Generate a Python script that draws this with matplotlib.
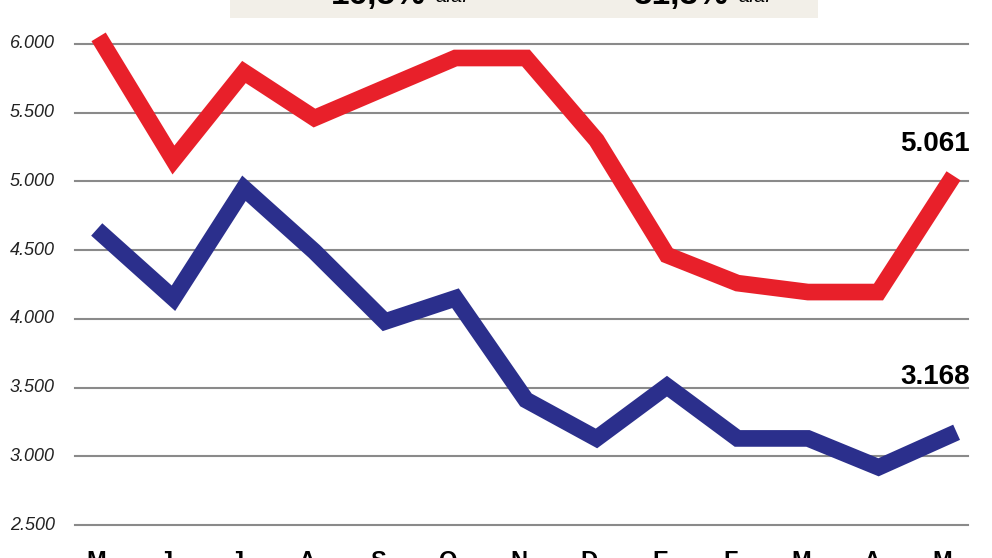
import numpy as np
import matplotlib.pyplot as plt
from matplotlib.patches import Rectangle

plt.rcParams['font.family'] = ['Liberation Sans', 'DejaVu Sans']

months = ['M', 'J', 'J', 'A', 'S', 'O', 'N', 'D', 'E', 'F', 'M', 'A', 'M']
red = [6000, 5156, 5796, 5461, 5680, 5898, 5898, 5300, 4464, 4260, 4195, 4195, 4990]
blue = [4610, 4150, 4950, 4490, 3980, 4150, 3410, 3130, 3510, 3130, 3130, 2920, 3150]
yticks = [2500, 3000, 3500, 4000, 4500, 5000, 5500, 6000]

fig = plt.figure(figsize=(9.92, 5.58), dpi=100)
ax = fig.add_axes([0, 0, 1, 1])
ax.set_xlim(-1.46, 12.61)
ax.set_ylim(2260, 6320)
ax.axis('off')

x = np.arange(len(months))
for v in yticks:
    ax.plot([-0.4, 12.27], [v, v], color='#8a8a8a', lw=1.5, zorder=1)
    ax.text(-1.32, v, f'{v:,}'.replace(',', '.'), fontsize=13, style='italic',
            ha='left', va='center', color='#222222')

ax.plot(x, red, color='#e8202a', lw=12, solid_joinstyle='miter', zorder=3)
ax.plot(x, blue, color='#2b2f8c', lw=12, solid_joinstyle='miter', zorder=3)

ax.text(11.8, 5270, '5.061', fontsize=20, fontweight='bold', ha='center', va='center')
ax.text(11.8, 3580, '3.168', fontsize=20, fontweight='bold', ha='center', va='center')

for i, m in enumerate(months):
    ax.text(i - 0.1, 2235, m, fontsize=17, fontweight='bold', ha='center', va='center')

# box at top (cut off)
ax.add_patch(Rectangle((1.80, 6190), 8.34, 200, facecolor='#f2efe8', edgecolor='none', zorder=2))
ax.text(3.9, 6355, '16,5%', fontsize=24, fontweight='bold', ha='center', va='center', zorder=4)
ax.text(4.95, 6335, 'a.a.', fontsize=14, style='italic', ha='center', va='center', zorder=4)
ax.text(8.2, 6355, '31,3%', fontsize=24, fontweight='bold', ha='center', va='center', zorder=4)
ax.text(9.25, 6335, 'a.a.', fontsize=14, style='italic', ha='center', va='center', zorder=4)

fig.savefig('out.png', dpi=100)
